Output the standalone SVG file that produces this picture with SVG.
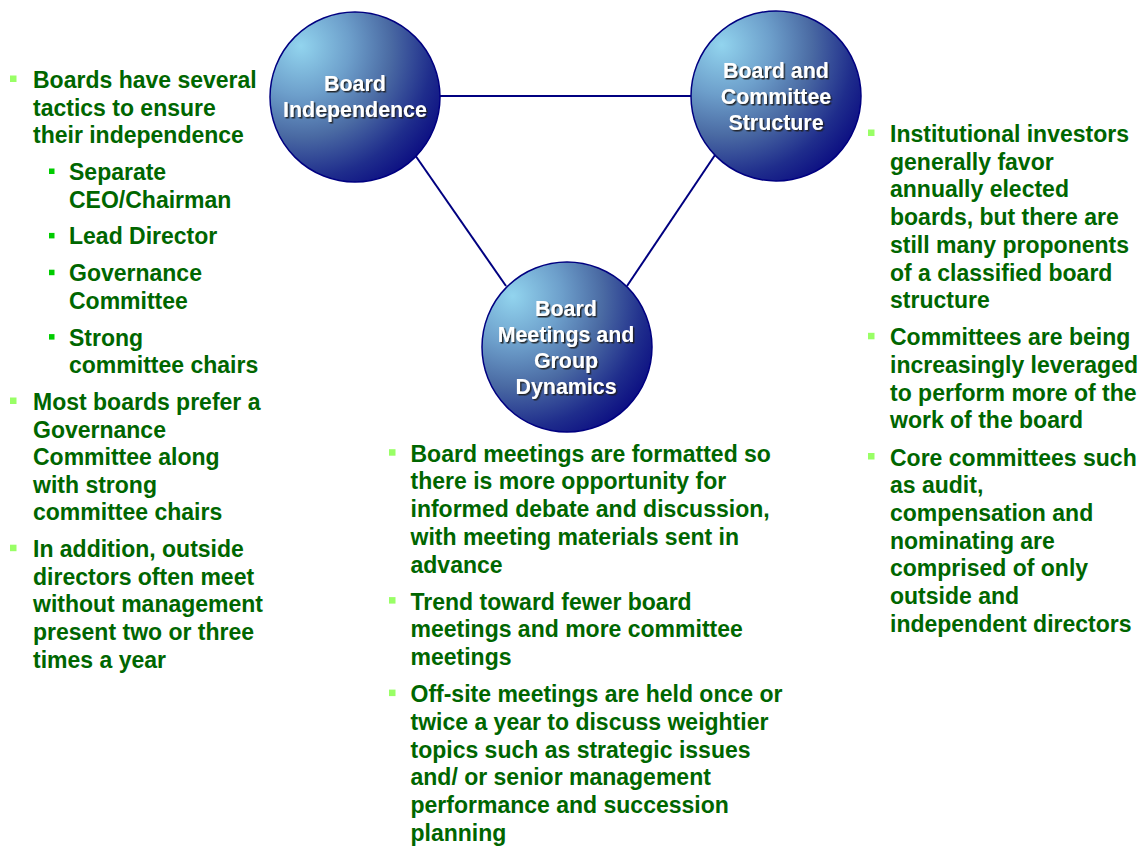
<svg xmlns="http://www.w3.org/2000/svg" width="1147" height="846" viewBox="0 0 1147 846">
  <style>
    .body { font-family: "Liberation Sans", Arial, sans-serif; font-weight: bold; font-size: 23px; fill: #006600; }
    .label { font-family: "Liberation Sans", Arial, sans-serif; font-weight: bold; font-size: 21.4px; fill: #ffffff; text-anchor: middle; filter: url(#shadow); }
    .b1 { fill: #99ff66; }
    .b2 { fill: #00cc00; }
    .ball { fill: url(#sphere); stroke: #000080; stroke-width: 1.5; }
    .link { stroke: #000080; stroke-width: 2; fill: none; }
  </style>
  <defs>
    <radialGradient id="sphere" cx="0.2" cy="0.22" r="0.95" fx="0.18" fy="0.2">
      <stop offset="0" stop-color="#92d4ee"/>
      <stop offset="0.3" stop-color="#6d9fcb"/>
      <stop offset="0.55" stop-color="#4a6aa3"/>
      <stop offset="0.8" stop-color="#1f2d8c"/>
      <stop offset="1" stop-color="#080880"/>
    </radialGradient>
    <filter id="shadow" x="-10%" y="-20%" width="130%" height="160%">
      <feDropShadow dx="1.5" dy="1.5" stdDeviation="0.4" flood-color="#1a1a1a" flood-opacity="0.9"/>
    </filter>
  </defs>

  <rect width="1147" height="846" fill="#ffffff"/>

  <!-- connectors between the three circles -->
  <g id="connectors">
    <line class="link" x1="440" y1="96" x2="691" y2="96"/>
    <line class="link" x1="415" y1="155" x2="506" y2="286"/>
    <line class="link" x1="715" y1="155" x2="627" y2="286"/>
  </g>

  <g id="node-independence">
    <circle class="ball" cx="355" cy="97" r="85"/>
    <text class="label"><tspan x="355" y="91">Board</tspan><tspan x="355" y="117">Independence</tspan></text>
  </g>

  <g id="node-structure">
    <circle class="ball" cx="776" cy="96" r="85"/>
    <text class="label"><tspan x="776" y="78">Board and</tspan><tspan x="776" y="104">Committee</tspan><tspan x="776" y="130">Structure</tspan></text>
  </g>

  <g id="node-meetings">
    <circle class="ball" cx="567" cy="347" r="85"/>
    <text class="label"><tspan x="566" y="316">Board</tspan><tspan x="566" y="342">Meetings and</tspan><tspan x="566" y="368">Group</tspan><tspan x="566" y="394">Dynamics</tspan></text>
  </g>

  <!-- left column: independence notes -->
  <g id="notes-independence">
    <rect class="b1" x="10" y="75.5" width="6.5" height="6.5"/>
    <rect class="b2" x="49" y="168.5" width="5.5" height="5.5"/>
    <rect class="b2" x="49" y="232.9" width="5.5" height="5.5"/>
    <rect class="b2" x="49" y="269.7" width="5.5" height="5.5"/>
    <rect class="b2" x="49" y="334.1" width="5.5" height="5.5"/>
    <rect class="b1" x="10" y="397.5" width="6.5" height="6.5"/>
    <rect class="b1" x="10" y="544.7" width="6.5" height="6.5"/>
    <text class="body">
      <tspan x="33" y="88">Boards have several</tspan>
      <tspan x="33" y="115.6">tactics to ensure</tspan>
      <tspan x="33" y="143.2">their independence</tspan>
      <tspan x="69" y="180">Separate</tspan>
      <tspan x="69" y="207.6">CEO/Chairman</tspan>
      <tspan x="69" y="244.4">Lead Director</tspan>
      <tspan x="69" y="281.2">Governance</tspan>
      <tspan x="69" y="308.8">Committee</tspan>
      <tspan x="69" y="345.6">Strong</tspan>
      <tspan x="69" y="373.2">committee chairs</tspan>
      <tspan x="33" y="410">Most boards prefer a</tspan>
      <tspan x="33" y="437.6">Governance</tspan>
      <tspan x="33" y="465.2">Committee along</tspan>
      <tspan x="33" y="492.8">with strong</tspan>
      <tspan x="33" y="520.4">committee chairs</tspan>
      <tspan x="33" y="557.2">In addition, outside</tspan>
      <tspan x="33" y="584.8">directors often meet</tspan>
      <tspan x="33" y="612.4">without management</tspan>
      <tspan x="33" y="640">present two or three</tspan>
      <tspan x="33" y="667.6">times a year</tspan>
    </text>
  </g>

  <!-- right column: committee structure notes -->
  <g id="notes-structure">
    <rect class="b1" x="868" y="129.5" width="6.5" height="6.5"/>
    <rect class="b1" x="868" y="332.8" width="6.5" height="6.5"/>
    <rect class="b1" x="868" y="453" width="6.5" height="6.5"/>
    <text class="body">
      <tspan x="890" y="142">Institutional investors</tspan>
      <tspan x="890" y="169.7">generally favor</tspan>
      <tspan x="890" y="197.4">annually elected</tspan>
      <tspan x="890" y="225.1">boards, but there are</tspan>
      <tspan x="890" y="252.8">still many proponents</tspan>
      <tspan x="890" y="280.5">of a classified board</tspan>
      <tspan x="890" y="308.2">structure</tspan>
      <tspan x="890" y="345.3">Committees are being</tspan>
      <tspan x="890" y="373">increasingly leveraged</tspan>
      <tspan x="890" y="400.7">to perform more of the</tspan>
      <tspan x="890" y="428.4">work of the board</tspan>
      <tspan x="890" y="465.5">Core committees such</tspan>
      <tspan x="890" y="493.2">as audit,</tspan>
      <tspan x="890" y="520.9">compensation and</tspan>
      <tspan x="890" y="548.6">nominating are</tspan>
      <tspan x="890" y="576.3">comprised of only</tspan>
      <tspan x="890" y="604">outside and</tspan>
      <tspan x="890" y="631.7">independent directors</tspan>
    </text>
  </g>

  <!-- bottom column: meetings notes -->
  <g id="notes-meetings">
    <rect class="b1" x="389" y="449.2" width="6.5" height="6.5"/>
    <rect class="b1" x="389" y="597.1" width="6.5" height="6.5"/>
    <rect class="b1" x="389" y="689.6" width="6.5" height="6.5"/>
    <text class="body">
      <tspan x="410.5" y="461.7">Board meetings are formatted so</tspan>
      <tspan x="410.5" y="489.4">there is more opportunity for</tspan>
      <tspan x="410.5" y="517.1">informed debate and discussion,</tspan>
      <tspan x="410.5" y="544.8">with meeting materials sent in</tspan>
      <tspan x="410.5" y="572.5">advance</tspan>
      <tspan x="410.5" y="609.6">Trend toward fewer board</tspan>
      <tspan x="410.5" y="637.3">meetings and more committee</tspan>
      <tspan x="410.5" y="665">meetings</tspan>
      <tspan x="410.5" y="702.1">Off-site meetings are held once or</tspan>
      <tspan x="410.5" y="729.8">twice a year to discuss weightier</tspan>
      <tspan x="410.5" y="757.5">topics such as strategic issues</tspan>
      <tspan x="410.5" y="785.2">and/ or senior management</tspan>
      <tspan x="410.5" y="812.9">performance and succession</tspan>
      <tspan x="410.5" y="840.6">planning</tspan>
    </text>
  </g>
</svg>
